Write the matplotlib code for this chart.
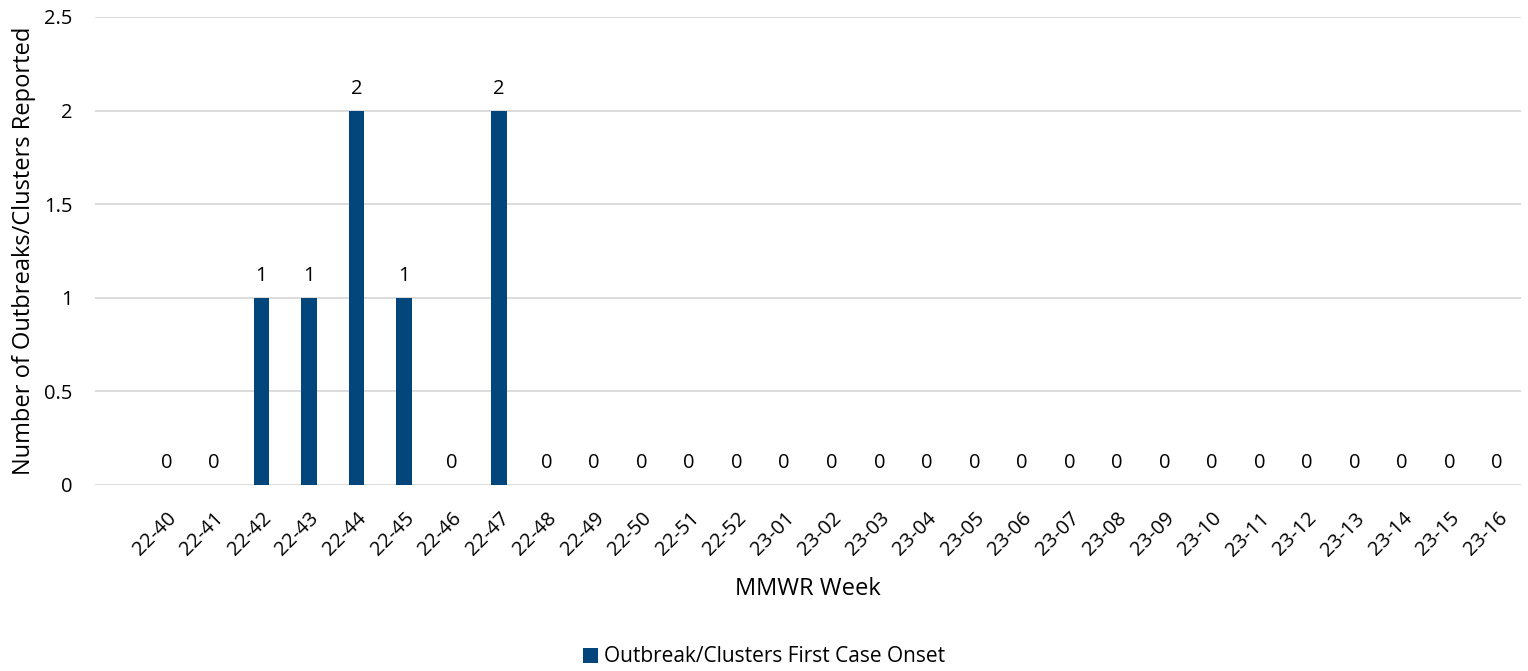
from matplotlib import pyplot as plt
import numpy as np

plt.rcParams['font.family'] = ['Open Sans', 'DejaVu Sans']

weeks = ['22-40', '22-41', '22-42', '22-43', '22-44', '22-45', '22-46',
         '22-47', '22-48', '22-49', '22-50', '22-51', '22-52',
         '23-01', '23-02', '23-03', '23-04', '23-05', '23-06', '23-07',
         '23-08', '23-09', '23-10', '23-11', '23-12', '23-13', '23-14',
         '23-15', '23-16']
counts = [0, 0, 1, 1, 2, 1, 0, 2, 0, 0, 0, 0, 0,
          0, 0, 0, 0, 0, 0, 0, 0, 0, 0, 0, 0, 0, 0, 0, 0]

bar_color = '#03467c'
grid_color = '#d9d9d9'


def main():
    fig = plt.figure(figsize=(15.28, 6.71), dpi=100)
    ax = fig.add_axes([95 / 1528, 1 - 485 / 671, (1521 - 95) / 1528, (485 - 17) / 671])

    x = np.arange(len(weeks))
    bars = ax.bar(x, counts, width=0.32, color=bar_color,
                  label='Outbreak/Clusters First Case Onset', zorder=3)

    # value labels above each bar
    for rect, v in zip(bars, counts):
        ax.annotate(str(v), (rect.get_x() + rect.get_width() / 2, v),
                    xytext=(0, 12), textcoords='offset points',
                    ha='center', va='baseline', fontsize=14.5)

    ax.set_xlim(-1.5, len(weeks) - 0.5)
    ax.set_ylim(0, 2.5)
    ax.set_yticks([0, 0.5, 1, 1.5, 2, 2.5])
    ax.set_yticklabels(['0', '0.5', '1', '1.5', '2', '2.5'], fontsize=14.5)
    ax.set_xticks(x)
    ax.set_xticklabels(weeks, rotation=45, ha='right', rotation_mode='anchor',
                       fontsize=14.5)
    ax.tick_params(axis='both', length=0)
    ax.tick_params(axis='y', pad=16)
    ax.tick_params(axis='x', pad=17)

    ax.yaxis.grid(True, color=grid_color, linewidth=1.3, zorder=0)
    for s in ax.spines.values():
        s.set_visible(False)

    ax.set_ylabel('Number of Outbreaks/Clusters Reported', fontsize=17, labelpad=6)
    ax.set_xlabel('MMWR Week', fontsize=17, labelpad=12)

    fig.legend(loc='center', bbox_to_anchor=(0.5, 1 - 657 / 671), frameon=False,
               fontsize=15, handlelength=0.7, handleheight=0.7, handletextpad=0.3)

    plt.savefig('out.png', dpi=100)


if __name__ == '__main__':
    main()
